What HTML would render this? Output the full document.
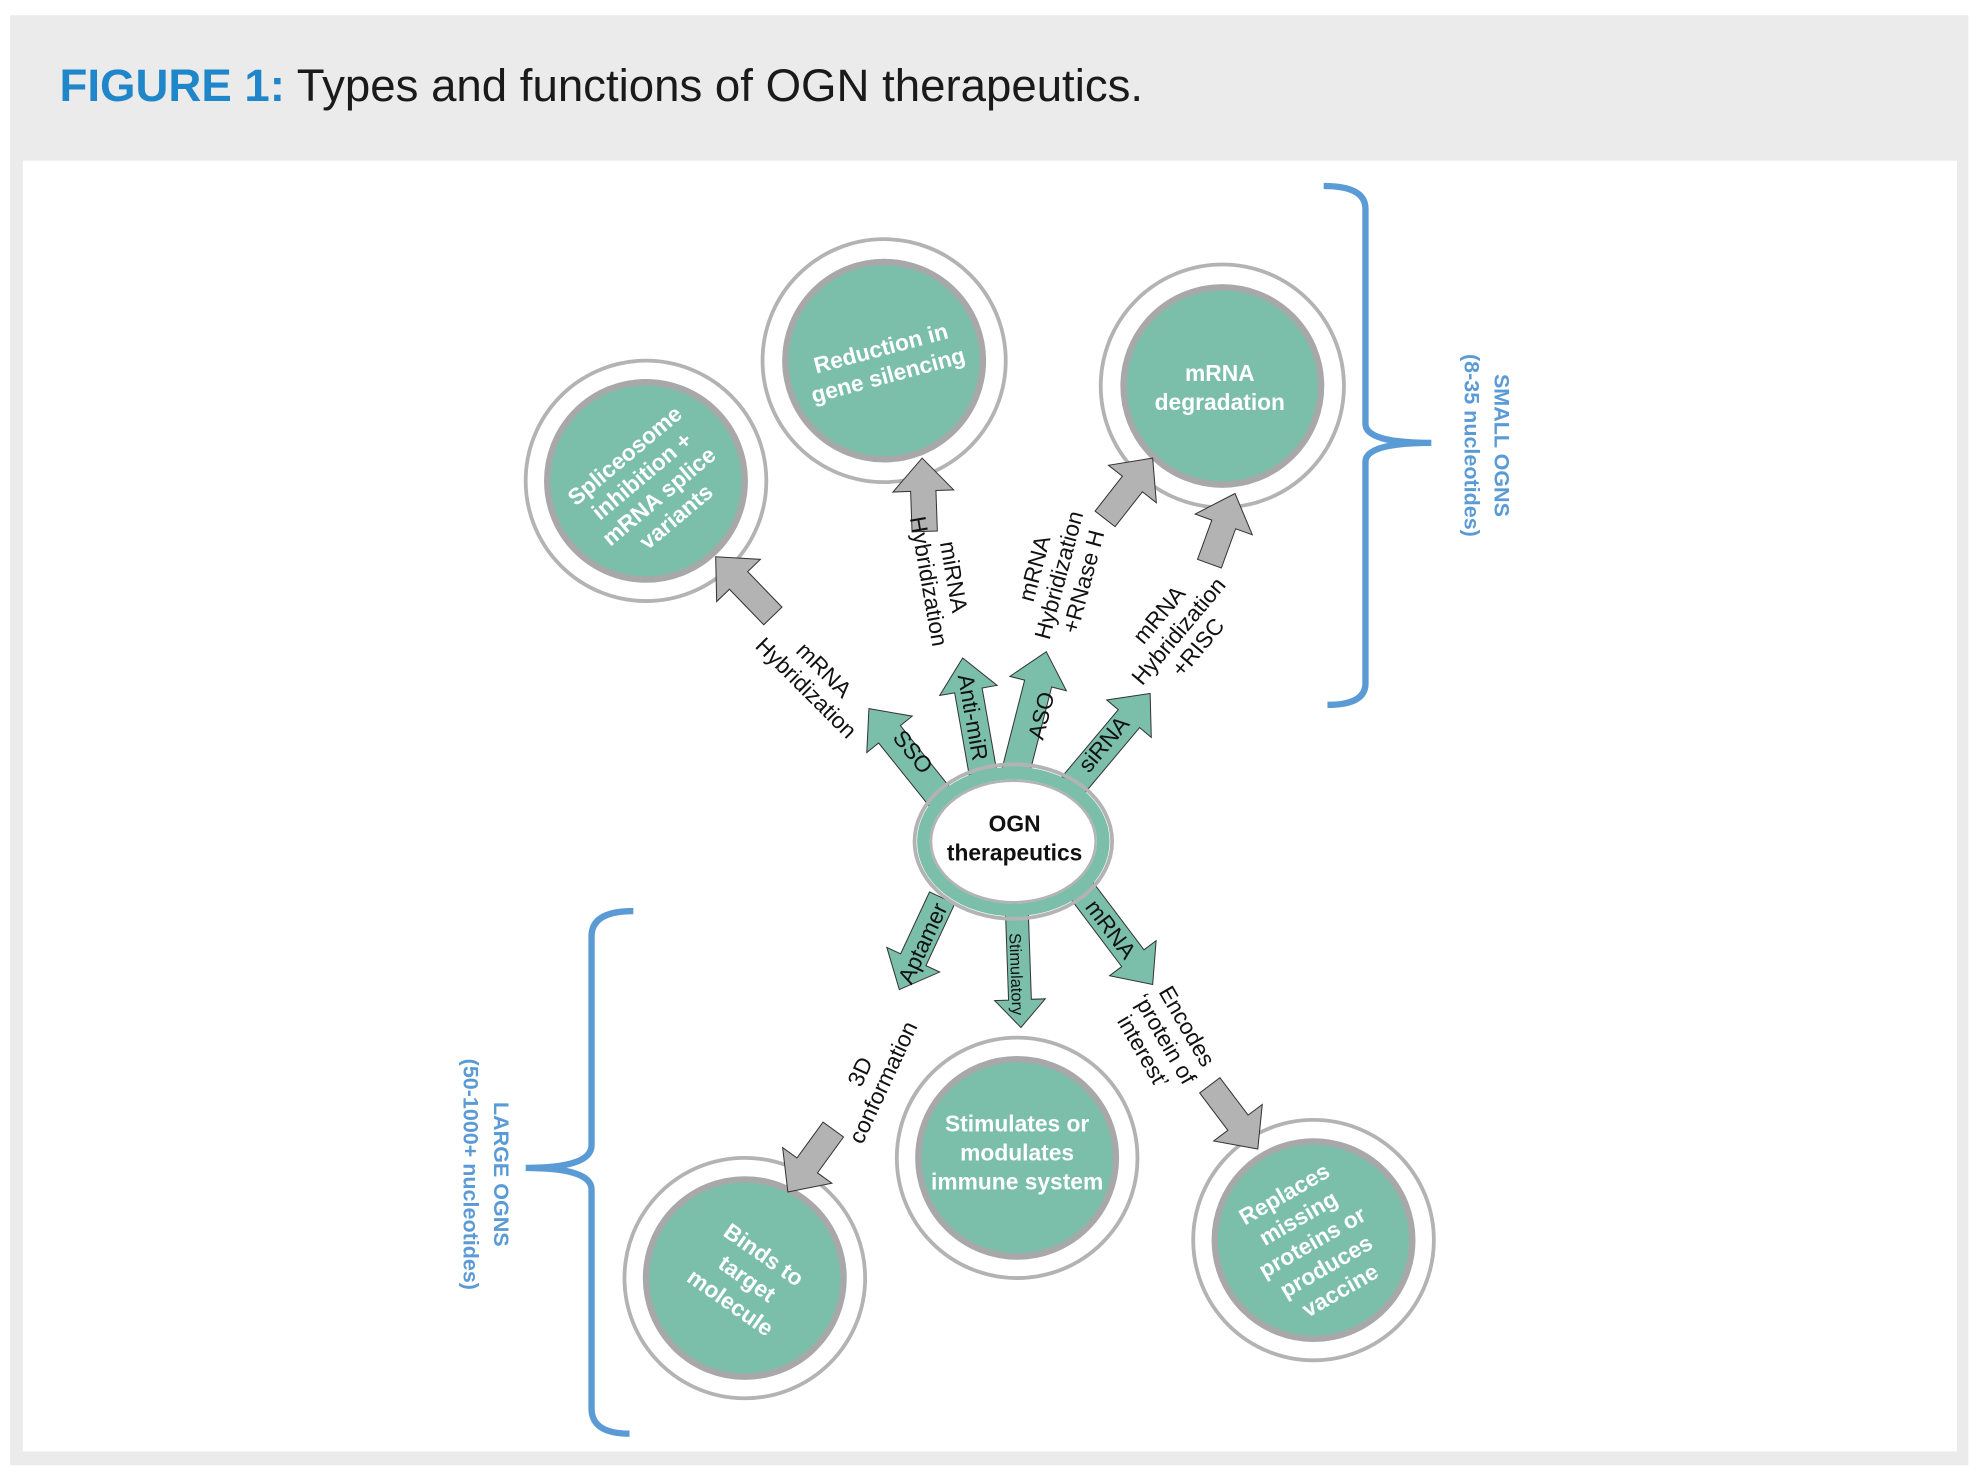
<!DOCTYPE html>
<html><head><meta charset="utf-8"><style>
html,body{margin:0;padding:0;background:#fff;}
svg{display:block;}
text{font-family:"Liberation Sans",Arial,sans-serif;}
</style></head><body>
<svg width="1976" height="1478" viewBox="0 0 1560 1168" preserveAspectRatio="none" xmlns="http://www.w3.org/2000/svg">
<rect x="0" y="0" width="1560" height="1168" fill="#fff"/>
<rect x="8" y="12" width="1546" height="1146" fill="#ebebeb"/>
<rect x="18" y="127" width="1527" height="1020" fill="#fff"/>
<text x="47" y="80" font-size="36" fill="#1a1a1a"><tspan fill="#1f87c9" font-weight="bold">FIGURE 1:</tspan> Types and functions of OGN therapeutics.</text>

<!-- brackets -->
<g fill="none" stroke="#5b9bd5" stroke-width="5">
<path d="M1045,147 Q1078,147 1078,165 L1078,335 Q1078,350 1130,350 Q1078,350 1078,365 L1078,540 Q1078,557 1048,557"/>
<path d="M500,720 Q467,720 467,740 L467,905 Q467,923 415,923 Q467,923 467,940 L467,1113 Q467,1133 497,1133"/>
</g>
<g fill="#5b9bd5" font-weight="bold" font-size="17" text-anchor="middle">
<text transform="translate(1180,352) rotate(90)">SMALL OGNS</text>
<text transform="translate(1156,352) rotate(90)">(8-35 nucleotides)</text>
<text transform="translate(390,928) rotate(90)">LARGE OGNS</text>
<text transform="translate(366,928) rotate(90)">(50-1000+ nucleotides)</text>
</g>

<!-- circles -->
<g>
<g fill="none" stroke="#b3b3b3" stroke-width="3">
<circle cx="510" cy="380" r="95"/><circle cx="698" cy="285" r="96"/><circle cx="965" cy="305" r="96"/>
<circle cx="588" cy="1010" r="95"/><circle cx="803" cy="915" r="95"/><circle cx="1037" cy="980" r="95"/>
</g>
<g fill="#7bbfaa" stroke="#a8a8a8" stroke-width="5">
<circle cx="510" cy="380" r="78"/><circle cx="698" cy="285" r="78"/><circle cx="965" cy="305" r="78"/>
<circle cx="588" cy="1010" r="78"/><circle cx="803" cy="915" r="78"/><circle cx="1037" cy="980" r="78"/>
</g>
</g>
<g fill="#fff" font-weight="bold" font-size="18" text-anchor="middle">
<g transform="translate(510,380) rotate(-40)"><text y="-20">Spliceosome</text><text y="1">inhibition +</text><text y="22">mRNA splice</text><text y="43">variants</text></g>
<g transform="translate(698,285) rotate(-15)"><text y="-4">Reduction in</text><text y="18">gene silencing</text></g>
<g transform="translate(963,305)"><text y="-4">mRNA</text><text y="19">degradation</text></g>
<g transform="translate(588,1013) rotate(35)"><text y="-20">Binds to</text><text y="3">target</text><text y="26">molecule</text></g>
<g transform="translate(803,915)"><text y="-21">Stimulates or</text><text y="2">modulates</text><text y="25">immune system</text></g>
<g transform="translate(1035,980) rotate(-30)"><text y="-36">Replaces</text><text y="-14">missing</text><text y="8">proteins or</text><text y="30">produces</text><text y="52">vaccine</text></g>
</g>

<!-- teal arrows -->
<g fill="#7bbfaa" stroke="#333" stroke-width="0.8">
<polygon transform="translate(686,560) rotate(-128.7)" points="-90,-11 -26,-11 -26,-23 0,0 -26,23 -26,11 -90,11"/>
<polygon transform="translate(760,520) rotate(-100)" points="-92,-11 -26,-11 -26,-23 0,0 -26,23 -26,11 -92,11"/>
<polygon transform="translate(826,515) rotate(-75.7)" points="-98,-11 -26,-11 -26,-23 0,0 -26,23 -26,11 -98,11"/>
<polygon transform="translate(908,548) rotate(-50)" points="-95,-11 -26,-11 -26,-23 0,0 -26,23 -26,11 -95,11"/>
<polygon transform="translate(710,782) rotate(115)" points="-80,-11 -26,-11 -26,-23 0,0 -26,23 -26,11 -80,11"/>
<polygon transform="translate(806,812) rotate(88)" points="-95,-9 -22,-9 -22,-20 0,0 -22,20 -22,9 -95,9"/>
<polygon transform="translate(910,778) rotate(53)" points="-95,-11 -26,-11 -26,-23 0,0 -26,23 -26,11 -95,11"/>
</g>
<!-- gray arrows -->
<g fill="#b3b3b3" stroke="#333" stroke-width="0.8">
<polygon transform="translate(565,440) rotate(-134)" points="-65,-10 -26,-10 -26,-24 0,0 -26,24 -26,10 -65,10"/>
<polygon transform="translate(728,362) rotate(-92)" points="-58,-10 -26,-10 -26,-24 0,0 -26,24 -26,10 -58,10"/>
<polygon transform="translate(910,362) rotate(-52)" points="-61,-10 -26,-10 -26,-24 0,0 -26,24 -26,10 -61,10"/>
<polygon transform="translate(975,390) rotate(-70)" points="-59,-10 -26,-10 -26,-24 0,0 -26,24 -26,10 -59,10"/>
<polygon transform="translate(622,942) rotate(126)" points="-61,-10 -26,-10 -26,-24 0,0 -26,24 -26,10 -61,10"/>
<polygon transform="translate(993,908) rotate(53)" points="-63,-10 -26,-10 -26,-24 0,0 -26,24 -26,10 -63,10"/>
</g>

<!-- center -->
<ellipse cx="800" cy="665" rx="78" ry="61" fill="none" stroke="#b3b3b3" stroke-width="3"/>
<ellipse cx="800" cy="665" rx="71" ry="54" fill="#fff" stroke="#7bbfaa" stroke-width="10"/>
<ellipse cx="800" cy="665" rx="65" ry="48" fill="none" stroke="#b3b3b3" stroke-width="2"/>
<g font-weight="bold" font-size="18" text-anchor="middle" fill="#111">
<text x="801" y="657">OGN</text><text x="801" y="680">therapeutics</text>
</g>

<!-- arrow labels -->
<g font-size="18" fill="#111" text-anchor="middle">
<text transform="translate(716,598) rotate(51)">SSO</text>
<text transform="translate(762,568) rotate(80)">Anti-miR</text>
<text transform="translate(828,567) rotate(-76)">ASO</text>
<text transform="translate(876,592) rotate(-50)">siRNA</text>
<text transform="translate(734,748) rotate(-65)">Aptamer</text>
<text transform="translate(798,770) rotate(88)" font-size="13">Stimulatory</text>
<text transform="translate(872,738) rotate(53)">mRNA</text>

<g transform="translate(642,538) rotate(45)"><text y="-6">mRNA</text><text y="14">Hybridization</text></g>
<g transform="translate(741,458) rotate(80)"><text y="-6">miRNA</text><text y="14">Hybridization</text></g>
<g transform="translate(838,455) rotate(-75)"><text y="-16">mRNA</text><text y="4">Hybridization</text><text y="24">+RNase H</text></g>
<g transform="translate(932,500) rotate(-50)"><text y="-16">mRNA</text><text y="4">Hybridization</text><text y="24">+RISC</text></g>
<g transform="translate(690,852) rotate(-65)"><text y="-6">3D</text><text y="14">conformation</text></g>
<g transform="translate(918,822) rotate(60)"><text y="-16">Encodes</text><text y="4">‘protein of</text><text y="24">interest’</text></g>
</g>
</svg>
</body></html>
